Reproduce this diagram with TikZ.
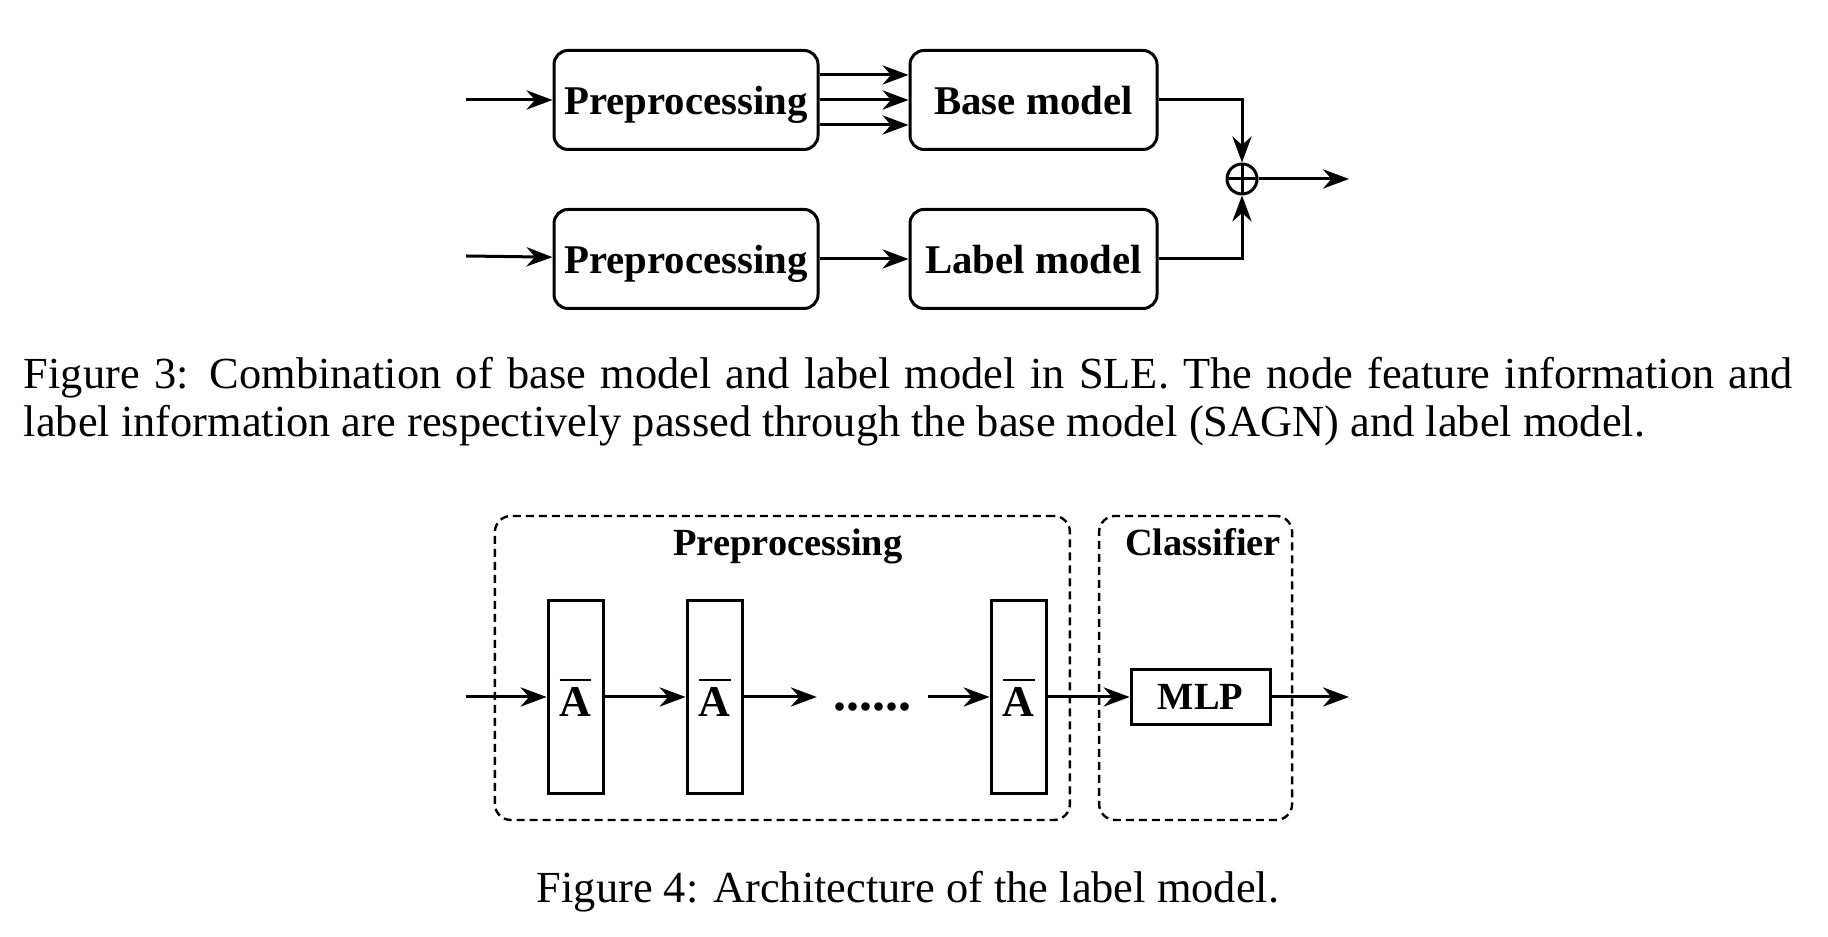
\documentclass[tikz,border=0pt]{standalone}
\usepackage{fontspec}
\setmainfont{Liberation Serif}
\usetikzlibrary{arrows.meta,positioning,calc}

\newcommand{\abar}{{\fontsize{11}{12}\selectfont$\overline{\mbox{A}\rule{0pt}{7.8pt}}$}}

\begin{document}
\begin{tikzpicture}[
      font=\bfseries\fontsize{10.2}{12}\selectfont,
      block/.style = {draw, rounded corners=3.5pt, line width=0.75pt,
                      minimum width=66pt, minimum height=24.75pt, inner sep=1pt,
                      text height=7.6pt, text depth=0.4pt},
      bar/.style   = {draw, line width=0.75pt, minimum width=13.75pt,
                      minimum height=48.25pt, inner sep=0pt},
      mlpbox/.style= {draw, line width=0.75pt, minimum width=34.75pt,
                      minimum height=13.75pt, inner sep=0pt},
      group/.style = {draw, dash pattern=on 2pt off 1.25pt, rounded corners=4pt,
                      line width=0.6pt, minimum height=76pt, inner sep=0pt},
      oplus/.style = {draw, circle, line width=0.75pt, minimum size=7.5pt,
                      inner sep=0pt,
                      path picture={\draw[line width=0.75pt]
                        (path picture bounding box.north) -- (path picture bounding box.south)
                        (path picture bounding box.west) -- (path picture bounding box.east);}},
      sig/.style   = {-{Stealth[length=6.5pt, width=4.8pt]}, line width=0.75pt},
      lbl/.style   = {font=\bfseries\fontsize{9.6}{11}\selectfont},
      captxt/.style= {font=\normalfont\fontsize{11.1}{12}\selectfont, inner sep=0pt},
    ]
    \useasboundingbox (0,0) rectangle (457pt,-234.25pt);

    % figure 3
    \node[block] (pre1) at (171.5pt,-25pt) {Preprocessing};
    \node[block, minimum width=61.75pt, right=22.25pt of pre1] (base) {Base model};
    \node[block, below=14.25pt of pre1] (pre2) {Preprocessing};
    \node[block, minimum width=61.75pt, right=22.25pt of pre2] (lab) {Label model};
    \node[oplus] (sum) at (310.5pt,-44.75pt) {};

    \coordinate (in1) at (116.5pt,-25pt);
    \coordinate (in2) at (116.5pt,-64pt);
    \coordinate (out1) at (337.25pt,-44.75pt);

    \draw[sig] (in1) -- (pre1);
    \foreach \dy in {-6.25pt,0pt,6.25pt}
      \draw[sig] ([yshift=\dy]pre1.east) -- ([yshift=\dy]base.west);
    \draw[sig] (in2) -- (pre2);
    \draw[sig] (pre2) -- (lab);
    \draw[sig] (base) -| (sum);
    \draw[sig] (lab) -| (sum);
    \draw[sig] (sum) -- (out1);

    \node[captxt, anchor=base west, text width=442.25pt, align=justify] (cap3)
      at (5.75pt,-97.25pt)
      {Figure 3: Combination of base model and label model in SLE. The node feature information and\linebreak
       label information are respectively passed through the base model (SAGN) and label model.};

    % figure 4
    \node[group, minimum width=143.75pt] (prebox) at (195.6pt,-167pt) {};
    \node[group, minimum width=48.25pt] (clsbox) at (298.9pt,-167pt) {};
    \node[lbl, anchor=base] (pretitle) at ($(prebox.north)+(1.4pt,-10.25pt)$) {Preprocessing};
    \node[lbl, anchor=base] (clstitle) at ($(clsbox.north)+(1.85pt,-10.25pt)$) {Classifier};

    \node[bar] (a1) at (143.9pt,-174.25pt) {\abar};
    \node[bar, right=20.25pt of a1] (a2) {\abar};
    \node[bar, right=61.5pt of a2] (a3) {\abar};
    \node[anchor=base, inner xsep=4pt, font=\bfseries\fontsize{13}{14}\selectfont] (dots)
      at ($(a2)!0.5!(a3)+(1.5pt,-3.5pt)$) {......};
    \node[mlpbox, lbl, right=20.5pt of a3] (mlp) {MLP};

    \coordinate (in4) at (116.5pt,-174.25pt);
    \coordinate (out4) at (337.25pt,-174.25pt);

    \draw[sig] (in4) -- (a1);
    \draw[sig] (a1) -- (a2);
    \draw[sig] (a2.east) -- (a2.east -| dots.west);
    \draw[sig] (dots.east |- a3.west) -- (a3.west);
    \draw[sig] (a3) -- (mlp);
    \draw[sig] (mlp) -- (out4);

    \node[captxt, anchor=base] (cap4) at (227pt,-225.75pt)
      {Figure 4: Architecture of the label model.};
  \end{tikzpicture}
\end{document}
